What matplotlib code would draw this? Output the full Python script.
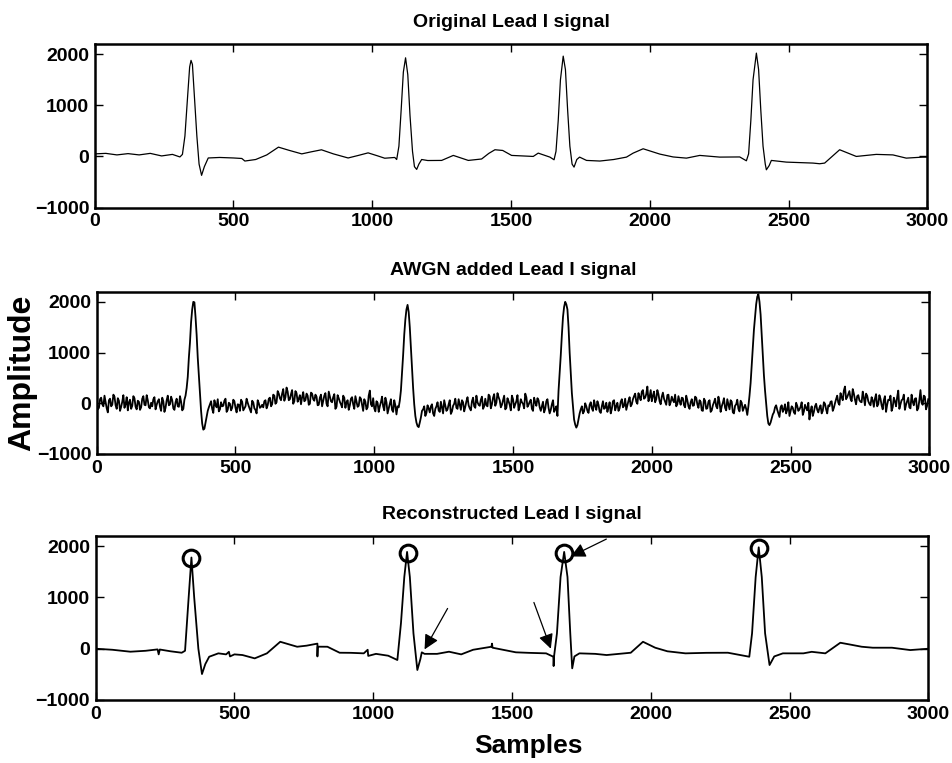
import matplotlib
matplotlib.use("Agg")
import matplotlib.pyplot as plt
import numpy as np
from matplotlib import font_manager

# ---------------- data ----------------
titles = ["Original Lead I signal", "AWGN added Lead I signal", "Reconstructed Lead I signal"]
x_ticks = [0, 500, 1000, 1500, 2000, 2500, 3000]
y_ticks = [-1000, 0, 1000, 2000]

# original (clean) Lead I signal, sample index / amplitude key points
orig_x = [0, 40, 80, 120, 160, 200, 241, 280, 307, 316, 325, 335, 342, 347, 352, 360, 368, 376, 385, 395,
          409, 450, 500, 530, 541, 580, 620, 662, 700, 746, 780, 817, 860, 913, 950, 985, 1020, 1045, 1081,
          1088, 1096, 1104, 1112, 1120, 1128, 1136, 1145, 1152, 1160, 1168, 1178, 1200, 1250, 1292, 1346,
          1394, 1420, 1442, 1470, 1502, 1580, 1598, 1640, 1655, 1662, 1670, 1678, 1688, 1696, 1704, 1712,
          1720, 1727, 1737, 1747, 1772, 1820, 1870, 1916, 1940, 1976, 2036, 2084, 2132, 2180, 2252, 2324,
          2348, 2356, 2364, 2372, 2384, 2392, 2400, 2408, 2416, 2420, 2430, 2438, 2492, 2588, 2612, 2630,
          2684, 2744, 2816, 2876, 2924, 2984, 3000]
orig_y = [50, 60, 30, 55, 30, 60, 10, 40, -10, 40, 400, 1200, 1750, 1880, 1800, 1100, 400, -150, -370, -200,
          -30, -20, -30, -40, -90, -60, 30, 182, 120, 50, 90, 130, 50, -30, 20, 70, 10, -35, -20,
          -60, 200, 900, 1650, 1930, 1600, 800, 100, -200, -254, -150, -60, -80, -78, 20, -78,
          -50, 60, 131, 117, 20, 0, 65, -13, -65, 100, 700, 1500, 1963, 1700, 900, 200,
          -150, -209, -60, -13, -78, -90, -60, -13, 65, 150, 46, -10, -33, 20, -13, -10,
          -85, 50, 700, 1500, 2022, 1700, 900, 200, -150, -261, -180, -78, -111, -130, -143, -130,
          131, 0, 40, 30, -33, -13, -13]

# AWGN added signal, read every 4 samples:
# awgn_y_a at samples 0, 8, ..., 2992 ; awgn_y_b at samples 4, 12, ..., 2996
awgn_step = 4
awgn_y_a = [
    40, -90, 110, -60, 20, -180, 90, -30, 130, -110, 50, -70, 160, -20, -140, 70, -50, 100, -120, 30, -80, 140, -40, 60, -100,
    -60, 120, -30, 80, -150, 40, -90, 150, -20, 60, -130, 90, -70, 30, -110, 150, 520, 1200, 1850, 1990, 1350, 550, -150, -520, -380,
    -150, -20, -110, 60, -80, -160, 20, -50, 90, -130, -10, -90, 40, -180, -30, 70, -140, -60, 10, -120, 50, -100, -200, 0, -70,
    -80, 60, -40, 110, -20, 150, 20, 190, 60, 280, 120, 230, 80, 260, 40, 200, 90, -20, 220, 60, 150, -10, 190, 50, 130,
    -30, 170, 40, 200, -60, 130, 20, 180, -70, 100, -20, 150, -90, 60, -40, 120, -110, 40, -50, 90, -150, 30, -80, 250, -60,
    -100, 40, -170, 20, -60, 110, -200, -10, -130, 60, -220, -80, 250, 950, 1650, 1940, 1500, 700, -20, -380, -470, -280, -120, -250, -40,
    -180, -20, -250, -60, -140, 30, -200, -40, -120, 60, -160, -10, -90, 80, -130, 20, -70, 120, -100, 40, -60, 150, -30, 70, -110,
    90, -60, 140, -20, 180, 10, 120, -80, 60, -120, 100, -30, 150, -90, 40, -140, 80, -10, 190, -70, 30, -110, 110, -50, 60,
    -150, 30, -110, 80, -200, -20, -170, -60, 250, 950, 1700, 2000, 1850, 1000, 200, -320, -480, -310, -120, -200, 0, -150, -30, -100, 60,
    -130, -30, -190, 40, -90, -170, 20, -110, 60, -60, -150, 30, -80, 90, -40, 120, -20, 140, 30, 200, 60, 260, 110, 330, 120,
    40, 230, 80, 180, -20, 210, 30, 160, -40, 130, 20, -60, 140, -30, 100, -80, 60, -110, 80, -40, 110, -90, 30, -150, 50,
    -100, 60, -140, 20, -60, 130, -170, 10, -90, 80, -120, 30, -200, -20, -110, 50, -150, -30, -230, 150, 750, 1450, 1950, 2150, 1750,
    950, 250, -250, -430, -300, -180, -40, -200, -80, -170, -20, -130, -250, -60, -180, 10, -150, -70, -230, -30, -140, -320, -60, -170, -10,
    -180, -40, -150, -10, -200, -60, 40, -90, 80, 10, 200, 60, 330, 120, 240, 40, 190, -20, 160, 30, 230, -40, 150, -10, 120,
    -70, 180, -20, 90, -120, 140, -30, 60, -150, 110, -60, 250, -20, 80, -130, 40, -80, 170, -40, 100, -100, 260, -30, 130, -50,
]
awgn_y_b = [
    -120, 80, -20, 150, -100, 60, -60, 170, -40, 100, -150, 30, -90, 120, 20, -110, 140, -70, 50, -130, 90, -30, 160, -80, 10,
    80, -120, 40, -70, 110, -170, 60, -40, 130, -100, 20, -60, 140, -140, 70, 300, 900, 1600, 2000, 1700, 900, 200, -400, -500, -250,
    -80, 40, -190, -30, 80, -120, -60, 50, -170, 10, -140, 70, -90, -20, -150, 30, -100, 90, -60, -180, 20, -130, 60, -90, -30,
    40, -100, 90, -60, 170, -10, 240, 100, 190, 50, 310, 60, 180, -10, 240, 30, 160, 120, 40, 190, -30, 210, 80, 170, -40,
    110, -60, 150, -10, 230, 40, 120, -110, 160, 30, -80, 110, 20, -130, 90, -20, 140, -70, 120, -30, 80, -120, 150, -20, 100,
    -160, 10, -60, 130, -140, 20, -100, 80, -170, -40, -60, 50, 600, 1350, 1850, 1800, 1100, 300, -250, -450, -380, -150, -60, -190, -100,
    -60, -200, -110, 20, -170, -80, 60, -150, -20, -210, -50, 90, -110, -30, 60, -160, 40, -40, -140, 110, -90, 20, -50, 130, -60,
    -40, 170, -100, 110, -50, 200, 60, -30, 150, -90, 40, -140, 80, -20, 160, -60, 20, -100, 120, -30, 70, -150, 20, 100, -80,
    -60, -180, 40, -90, -130, 60, -120, -250, 600, 1350, 1900, 1950, 1500, 600, -50, -420, -430, -200, -60, -160, -60, -190, 20, -150, -50,
    40, -160, -60, -110, 10, -80, -200, 40, -140, 10, -100, 80, -50, -130, 50, -60, 80, 190, -10, 120, 230, 90, 180, 40, 260,
    150, 20, 260, 40, 130, 90, -30, 170, 20, 60, 170, -20, 40, 110, -40, 150, -60, 20, -50, 130, -20, 60, -140, 90, -110,
    30, -170, -40, 90, -100, 20, -60, 100, -140, -20, 60, -180, -50, 70, -160, 10, -90, -110, -60, 400, 1100, 1700, 2100, 2000, 1350,
    550, 0, -400, -380, -220, -80, -130, -270, -40, -120, -200, 20, -150, -90, -210, -50, -120, 20, -160, -90, 10, -150, -250, -60, -130,
    -90, -200, 20, -120, -40, 30, -150, 0, 150, -30, 120, 250, 80, 180, 90, 280, 70, 140, 60, 20, 110, 190, 40, -40, 60,
    90, -60, 160, -40, 60, -170, 70, 150, -80, 40, 120, -110, 60, 170, -30, 110, -100, 30, 90, -140, 60, 10, 150, -120, 80,
]

# reconstructed signal key points
rec_x = [0, 60, 125, 180, 223, 227, 231, 270, 310, 322, 335, 345, 355, 370, 383, 395, 409, 442, 470, 480,
         484, 500, 529, 573, 617, 665, 700, 726, 760, 799, 799, 800, 835, 879, 920, 966, 980, 982, 1010,
         1054, 1087, 1100, 1112, 1122, 1132, 1145, 1159, 1170, 1175, 1185, 1230, 1273, 1317, 1360, 1426,
         1428, 1430, 1514, 1560, 1623, 1649, 1650, 1652, 1662, 1675, 1688, 1700, 1710, 1717, 1725, 1743,
         1800, 1841, 1928, 1972, 2016, 2060, 2125, 2200, 2278, 2355, 2365, 2378, 2389, 2400, 2412, 2428,
         2445, 2476, 2550, 2580, 2629, 2683, 2720, 2760, 2800, 2869, 2935, 3000]
rec_y = [0, -20, -58, -40, -13, -110, -15, -50, -78, -40, 1000, 1780, 1000, 0, -494, -300, -156, -90, -110, -60,
         -150, -110, -123, -188, -90, 136, 80, 39, 60, 100, -150, 40, 39, -78, -80, -90, -20, -140, -100,
         -136, -220, 500, 1400, 1890, 1400, 300, -415, -200, -70, -100, -100, -58, -110, -20, 39,
         100, 20, -70, -80, -90, -156, -338, -130, 300, 1400, 1890, 1400, 300, -383, -150, -90,
         -100, -123, -78, 136, 20, -50, -90, -80, -78, -156, 300, 1400, 1980, 1400, 300, -318,
         -150, -90, -90, -60, -90, 117, 80, 39, 20, 20, -26, 0]

# circled R peaks and arrows (annotations on the reconstructed signal)
peak_x = [345, 1124, 1688, 2390]
peak_y = [1770, 1860, 1860, 1968]
arrow_tail = [(1268, 786), (1579, 903), (1840, 2140)]
arrow_head = [(1185, -13), (1640, 0), (1712, 1800)]

# ---------------- style ----------------
names = {f.name for f in font_manager.fontManager.ttflist}
narrow = "Liberation Sans Narrow" if "Liberation Sans Narrow" in names else "Liberation Sans"
wide = "Liberation Sans" if "Liberation Sans" in names else "DejaVu Sans"

fig = plt.figure(figsize=(9.52, 7.63), dpi=100)
positions = [
    [0.0995, 0.7280, 0.8746, 0.2143],
    [0.1016, 0.4050, 0.8746, 0.2127],
    [0.1005, 0.0826, 0.8746, 0.2149],
]
axes = [fig.add_axes(p) for p in positions]

awgn_y = np.empty(len(awgn_y_a) + len(awgn_y_b))
awgn_y[0::2] = awgn_y_a
awgn_y[1::2] = awgn_y_b
awgn_x = np.arange(len(awgn_y)) * awgn_step

axes[0].plot(orig_x, orig_y, color="black", lw=0.9)
axes[1].plot(awgn_x, awgn_y, color="black", lw=1.3)
axes[2].plot(rec_x, rec_y, color="black", lw=1.3)
axes[2].plot(peak_x, peak_y, linestyle="none", marker="o", markersize=12,
             markerfacecolor="none", markeredgecolor="black", markeredgewidth=2.2)
for (tx, ty), (hx, hy) in zip(arrow_tail, arrow_head):
    axes[2].annotate("", xy=(hx, hy), xytext=(tx, ty), annotation_clip=False,
                     arrowprops=dict(arrowstyle="-|>", color="black", lw=0.9,
                                     mutation_scale=22, shrinkA=0, shrinkB=0))

tick_size = 14
for ax, t in zip(axes, titles):
    ax.set_xlim(0, 3000)
    ax.set_ylim(-1000, 2200)
    ax.set_xticks(x_ticks)
    ax.set_yticks(y_ticks)
    ax.tick_params(direction="in", length=6, width=1, top=True, right=True, pad=4)
    for lab in ax.get_xticklabels() + ax.get_yticklabels():
        lab.set_fontfamily(narrow)
        lab.set_fontstretch("condensed")
        lab.set_fontweight("bold")
        lab.set_fontsize(tick_size)
    for sp in ax.spines.values():
        sp.set_linewidth(1.8)
    ax.set_title(t, fontfamily=narrow, fontstretch="condensed", fontweight="bold",
                 fontsize=14, pad=12)

axes[2].set_xlabel("Samples", fontfamily=narrow, fontstretch="condensed",
                   fontweight="bold", fontsize=19)
axes[2].xaxis.set_label_coords(0.52, -0.21)
fig.text(0.023, 0.511, "Amplitude", rotation=90, ha="center", va="center",
         fontfamily=wide, fontweight="bold", fontsize=23)

fig.savefig("out.png", dpi=100)
